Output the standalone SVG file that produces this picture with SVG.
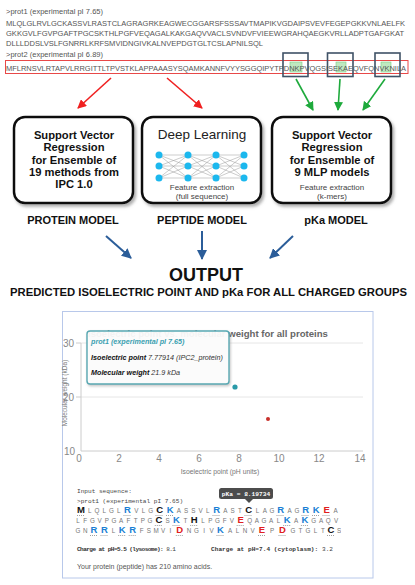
<svg xmlns="http://www.w3.org/2000/svg" width="415" height="585" viewBox="0 0 415 585">
<style>
.seq{font-family:"Liberation Sans",Arial,sans-serif;font-size:7.5px;fill:#555}
.bt{font-family:"Liberation Sans",Arial,sans-serif;font-size:11.2px;font-weight:bold;fill:#111;text-anchor:middle}
.fe{font-family:"Liberation Sans",Arial,sans-serif;font-size:8px;fill:#444;text-anchor:middle}
.lbl{font-family:"Liberation Sans",Arial,sans-serif;font-size:11px;font-weight:bold;fill:#111;text-anchor:middle}
.box{fill:#fff;stroke:#111;stroke-width:2.5}
.nn{fill:#1cb8ee}
.nl{stroke:#999;stroke-width:0.5}
.ax{font-family:"Liberation Sans",Arial,sans-serif;font-size:10px;fill:#888}
.mono{font-family:"Liberation Mono","Courier New",monospace;font-size:6.1px;fill:#444}
.r{font-family:"Liberation Sans",Arial,sans-serif;font-size:6.3px;fill:#777;text-anchor:middle}
.h{font-family:"Liberation Sans",Arial,sans-serif;font-size:9.5px;font-weight:bold;text-anchor:middle}
.k{fill:#111}.b{fill:#1a7fd4}.e{fill:#e02020}
.ul{stroke:#888;stroke-width:0.8;stroke-dasharray:1 1}
.tt{font-family:"Liberation Sans",Arial,sans-serif;font-size:7.2px;font-style:italic}
</style>
<defs>
<marker id="ar" markerWidth="9" markerHeight="9" refX="8" refY="4.5" orient="auto" markerUnits="userSpaceOnUse"><path d="M0,0 L9,4.5 L0,9 Z" fill="#f02020"/></marker>
<marker id="ag" markerWidth="9" markerHeight="9" refX="8" refY="4.5" orient="auto" markerUnits="userSpaceOnUse"><path d="M0,0 L9,4.5 L0,9 Z" fill="#1eaa3c"/></marker>
<marker id="ab" markerWidth="10" markerHeight="10" refX="9" refY="5" orient="auto" markerUnits="userSpaceOnUse"><path d="M0,0 L10,5 L0,10 Z" fill="#2b5d99"/></marker>
<filter id="sh" x="-10%" y="-10%" width="130%" height="130%"><feDropShadow dx="2" dy="2.5" stdDeviation="1.5" flood-color="#777" flood-opacity="0.6"/></filter>
<filter id="sh2" x="-10%" y="-10%" width="130%" height="130%"><feDropShadow dx="1" dy="1.5" stdDeviation="1.2" flood-color="#888" flood-opacity="0.5"/></filter>
<clipPath id="cl"><rect x="70" y="500" width="271" height="40"/></clipPath>
</defs>
<rect width="415" height="585" fill="#fff"/>

<g id="input-sequences">
<text class="seq" x="6" y="14" textLength="97">&gt;prot1 (experimental pI 7.65)</text>
<text class="seq" x="6" y="26" textLength="399" lengthAdjust="spacingAndGlyphs">MLQLGLRVLGCKASSVLRASTCLAGRAGRKEAGWECGGARSFSSSAVTMAPIKVGDAIPSVEVFEGEPGKKVNLAELFK</text>
<text class="seq" x="6" y="36" textLength="398" lengthAdjust="spacingAndGlyphs">GKKGVLFGVPGAFTPGCSKTHLPGFVEQAGALKAKGAQVVACLSVNDVFVIEEWGRAHQAEGKVRLLADPTGAFGKAT</text>
<text class="seq" x="6" y="46" textLength="257" lengthAdjust="spacingAndGlyphs">DLLLDDSLVSLFGNRRLKRFSMVIDNGIVKALNVEPDGTGLTCSLAPNILSQL</text>
<text class="seq" x="6" y="57" textLength="97">&gt;prot2 (experimental pI 6.89)</text>
<rect x="290" y="62" width="12" height="10" fill="#bfe8c0" stroke="#7ccc80" stroke-width="0.6"/>
<rect x="336" y="62" width="10" height="10" fill="#bfe8c0" stroke="#7ccc80" stroke-width="0.6"/>
<rect x="381" y="62" width="10" height="10" fill="#bfe8c0" stroke="#7ccc80" stroke-width="0.6"/>
<text class="seq" x="6" y="70.5" textLength="400" lengthAdjust="spacingAndGlyphs">MFLRNSVLRTAPVLRRGITTLTPVSTKLAPPAAASYSQAMKANNFVYYSGGQIPYTPDNKPVQGSISEKAEQVFQNVKNILA</text>
<rect x="5.5" y="60.5" width="402.5" height="13" fill="none" stroke="#e84848" stroke-width="1"/>
<rect x="283" y="53" width="25" height="23.5" fill="none" stroke="#3f5266" stroke-width="1.6"/>
<rect x="327.5" y="53" width="25.5" height="23.5" fill="none" stroke="#3f5266" stroke-width="1.6"/>
<rect x="375" y="53" width="25" height="23.5" fill="none" stroke="#3f5266" stroke-width="1.6"/>
</g>

<g id="connectors" fill="none">
<line x1="111" y1="78" x2="78" y2="108" stroke="#f02020" stroke-width="1.6" marker-end="url(#ar)"/>
<line x1="167" y1="78" x2="202" y2="108" stroke="#f02020" stroke-width="1.6" marker-end="url(#ar)"/>
<line x1="296" y1="79" x2="313" y2="110" stroke="#1eaa3c" stroke-width="1.6" marker-end="url(#ag)"/>
<line x1="340" y1="79" x2="338" y2="110" stroke="#1eaa3c" stroke-width="1.6" marker-end="url(#ag)"/>
<line x1="385" y1="79" x2="363" y2="110" stroke="#1eaa3c" stroke-width="1.6" marker-end="url(#ag)"/>
<line x1="106" y1="236" x2="131" y2="258" stroke="#2b5d99" stroke-width="2" marker-end="url(#ab)"/>
<line x1="202" y1="231" x2="202" y2="259" stroke="#2b5d99" stroke-width="2" marker-end="url(#ab)"/>
<line x1="293" y1="236" x2="270" y2="258" stroke="#2b5d99" stroke-width="2" marker-end="url(#ab)"/>
</g>

<g id="protein-model">
<rect class="box" x="14" y="117" width="119" height="86" rx="11" filter="url(#sh)"/>
<text class="bt" x="74" y="139">Support Vector</text>
<text class="bt" x="74" y="151.3">Regression</text>
<text class="bt" x="74" y="163.6">for Ensemble of</text>
<text class="bt" x="74" y="175.9">19 methods from</text>
<text class="bt" x="74" y="188.2">IPC 1.0</text>
<text class="lbl" x="73" y="224">PROTEIN MODEL</text>
</g>

<g id="peptide-model">
<rect class="box" x="142" y="117" width="119" height="86" rx="11" filter="url(#sh)"/>
<text x="202" y="139" text-anchor="middle" font-family="'Liberation Sans',Arial,sans-serif" font-size="13.5" fill="#222">Deep Learning</text>
<g>
<path class="nl" d="M159,155L188,155M159,155L188,166M159,155L188,178M159,166L188,155M159,166L188,166M159,166L188,178M159,178L188,155M159,178L188,166M159,178L188,178M188,155L216,155M188,155L216,166M188,155L216,178M188,166L216,155M188,166L216,166M188,166L216,178M188,178L216,155M188,178L216,166M188,178L216,178M216,155L244,155M216,155L244,166M216,155L244,178M216,166L244,155M216,166L244,166M216,166L244,178M216,178L244,155M216,178L244,166M216,178L244,178"/>
<circle class="nn" cx="159" cy="155" r="3.5"/><circle class="nn" cx="159" cy="166" r="3.5"/><circle class="nn" cx="159" cy="178" r="3.5"/>
<circle class="nn" cx="188" cy="155" r="3.5"/><circle class="nn" cx="188" cy="166" r="3.5"/><circle class="nn" cx="188" cy="178" r="3.5"/>
<circle class="nn" cx="216" cy="155" r="3.5"/><circle class="nn" cx="216" cy="166" r="3.5"/><circle class="nn" cx="216" cy="178" r="3.5"/>
<circle class="nn" cx="244" cy="155" r="3.5"/><circle class="nn" cx="244" cy="166" r="3.5"/><circle class="nn" cx="244" cy="178" r="3.5"/>
</g>
<text class="fe" x="202" y="189.5">Feature extraction</text>
<text class="fe" x="202" y="198.5">(full sequence)</text>
<text class="lbl" x="202" y="224">PEPTIDE MODEL</text>
</g>

<g id="pka-model">
<rect class="box" x="272" y="117" width="119" height="86" rx="11" filter="url(#sh)"/>
<text class="bt" x="332" y="139">Support Vector</text>
<text class="bt" x="332" y="151.3">Regression</text>
<text class="bt" x="332" y="163.6">for Ensemble of</text>
<text class="bt" x="332" y="175.9">9 MLP models</text>
<text class="fe" x="332" y="190">Feature extraction</text>
<text class="fe" x="332" y="199">(k-mers)</text>
<text class="lbl" x="336" y="224">pKa MODEL</text>
</g>

<g id="output">
<text x="206" y="281" text-anchor="middle" font-family="'Liberation Sans',Arial,sans-serif" font-size="18" font-weight="bold" fill="#111">OUTPUT</text>
<text x="10" y="296" font-family="'Liberation Sans',Arial,sans-serif" font-size="10.5" font-weight="bold" fill="#111" textLength="397" lengthAdjust="spacingAndGlyphs">PREDICTED ISOELECTRIC POINT AND pKa FOR ALL CHARGED GROUPS</text>
</g>

<g id="result-panel">
<rect x="62.5" y="311.5" width="310.5" height="266.5" fill="#fff" stroke="#b8c8ea" stroke-width="1"/>
<line x1="81" y1="343" x2="363" y2="343" stroke="#e6e6e6"/>
<line x1="81" y1="397" x2="363" y2="397" stroke="#e6e6e6"/>
<line x1="81" y1="451" x2="363" y2="451" stroke="#ccc"/>
<line x1="81" y1="343" x2="81" y2="451" stroke="#ccc"/>
<line x1="76" y1="343" x2="81" y2="343" stroke="#ccc"/>
<line x1="76" y1="397" x2="81" y2="397" stroke="#ccc"/>
<text class="ax" x="74" y="347" text-anchor="end">30</text>
<text class="ax" x="74" y="401" text-anchor="end">20</text>
<text class="ax" x="75" y="455" text-anchor="end">10</text>
<g class="ax" text-anchor="middle">
<text x="79" y="462">0</text><text x="119" y="462">2</text><text x="159" y="462">4</text><text x="199" y="462">6</text>
<text x="239" y="462">8</text><text x="279" y="462">10</text><text x="319" y="462">12</text><text x="360" y="462">14</text>
</g>
<text x="220" y="474" text-anchor="middle" font-family="'Liberation Sans',Arial,sans-serif" font-size="6.8" fill="#777">Isoelectric point (pH units)</text>
<text transform="translate(67,393) rotate(-90)" text-anchor="middle" font-family="'Liberation Sans',Arial,sans-serif" font-size="6.5" fill="#777">Molecular weight (kDa)</text>
<text x="88" y="337" font-family="'Liberation Sans',Arial,sans-serif" font-size="9.6" font-weight="bold" fill="#666">Isoelectric point vs. molecular weight for all proteins</text>
<circle cx="268" cy="419" r="2" fill="#c8302a"/>
<rect x="87" y="331" width="142" height="53" rx="3" fill="#fff" fill-opacity="0.9" stroke="#58a8b2" stroke-width="1.4" filter="url(#sh2)"/>
<text class="tt" x="91" y="344" font-weight="bold" fill="#3a9fb0">prot1 (experimental pI 7.65)</text>
<text class="tt" x="91" y="360" fill="#333"><tspan font-weight="bold" fill="#111">Isoelectric point</tspan> 7.77914 (IPC2_protein)</text>
<text class="tt" x="91" y="375" fill="#333"><tspan font-weight="bold" fill="#111">Molecular weight</tspan> 21.9 kDa</text>
<circle cx="235" cy="387" r="2.6" fill="#2a9aa8"/>

<text class="mono" x="77" y="493">Input sequence:</text>
<text class="mono" x="77" y="503">&gt;prot1 (experimental pI 7.65)</text>
<g clip-path="url(#cl)">
<text class="r" y="512.5"><tspan x="89.85">L</tspan><tspan x="97.05">Q</tspan><tspan x="104.25">L</tspan><tspan x="111.45">G</tspan><tspan x="118.65">L</tspan><tspan x="136.35">V</tspan><tspan x="143.55">L</tspan><tspan x="150.75">G</tspan><tspan x="178.95">A</tspan><tspan x="186.15">S</tspan><tspan x="193.35">S</tspan><tspan x="200.55">V</tspan><tspan x="207.75">L</tspan><tspan x="225.45">A</tspan><tspan x="232.65">S</tspan><tspan x="239.85">T</tspan><tspan x="257.55">L</tspan><tspan x="264.75">A</tspan><tspan x="271.95">G</tspan><tspan x="289.65">A</tspan><tspan x="296.85">G</tspan><tspan x="335.55">A</tspan></text>
<text class="h" y="512.5"><tspan x="81" class="k">M</tspan><tspan x="127.5" class="b">R</tspan><tspan x="159.6" class="k">C</tspan><tspan x="170.1" class="b">K</tspan><tspan x="216.6" class="b">R</tspan><tspan x="248.7" class="k">C</tspan><tspan x="280.8" class="b">R</tspan><tspan x="305.7" class="b">R</tspan><tspan x="316.2" class="b">K</tspan><tspan x="326.7" class="e">E</tspan></text>
<text class="r" y="522.5"><tspan x="78">L</tspan><tspan x="85.2">F</tspan><tspan x="92.4">G</tspan><tspan x="99.6">V</tspan><tspan x="106.8">P</tspan><tspan x="114">G</tspan><tspan x="121.2">A</tspan><tspan x="128.4">F</tspan><tspan x="135.6">T</tspan><tspan x="142.8">P</tspan><tspan x="150">G</tspan><tspan x="167.7">S</tspan><tspan x="185.4">T</tspan><tspan x="203.1">L</tspan><tspan x="210.3">P</tspan><tspan x="217.5">G</tspan><tspan x="224.7">F</tspan><tspan x="231.9">V</tspan><tspan x="249.6">Q</tspan><tspan x="256.8">A</tspan><tspan x="264">G</tspan><tspan x="271.2">A</tspan><tspan x="278.4">L</tspan><tspan x="296.1">A</tspan><tspan x="313.8">G</tspan><tspan x="321">A</tspan><tspan x="328.2">Q</tspan><tspan x="336.2">V</tspan></text>
<text class="h" y="522.5"><tspan x="158.85" class="k">C</tspan><tspan x="176.55" class="b">K</tspan><tspan x="194.25" class="k">H</tspan><tspan x="240.75" class="e">E</tspan><tspan x="287.25" class="b">K</tspan><tspan x="304.95" class="b">K</tspan></text>
<text class="r" y="532.5"><tspan x="78">G</tspan><tspan x="85.2">N</tspan><tspan x="113.4">L</tspan><tspan x="141.6">F</tspan><tspan x="148.8">S</tspan><tspan x="156">M</tspan><tspan x="163.2">V</tspan><tspan x="170.4">I</tspan><tspan x="189">N</tspan><tspan x="196.5">G</tspan><tspan x="204">I</tspan><tspan x="211.5">V</tspan><tspan x="230">A</tspan><tspan x="237.5">L</tspan><tspan x="245">N</tspan><tspan x="252.5">V</tspan><tspan x="272">P</tspan><tspan x="293">G</tspan><tspan x="300.5">T</tspan><tspan x="308">G</tspan><tspan x="315.5">L</tspan><tspan x="323">T</tspan><tspan x="339">S</tspan></text>
<text class="h" y="532.5"><tspan x="94.05" class="b">R</tspan><tspan x="104.55" class="b">R</tspan><tspan x="122.25" class="b">K</tspan><tspan x="132.75" class="b">R</tspan><tspan x="179.8" class="e">D</tspan><tspan x="220.5" class="b">K</tspan><tspan x="262" class="e">E</tspan><tspan x="282.5" class="e">D</tspan><tspan x="331" class="k">C</tspan></text>
<path class="ul" d="M77,515.5h8M123.5,515.5h8M155.5,515.5h8M166,515.5h8M212.5,515.5h8M244.5,515.5h8M276.5,515.5h8M301.5,515.5h8M312,515.5h8M322.5,515.5h8M154.8,525.5h8M172.5,525.5h8M190.2,525.5h8M236.7,525.5h8M283.2,525.5h8M300.9,525.5h8M90,535.5h8M100.5,535.5h8M118.2,535.5h8M128.7,535.5h8M175.8,535.5h8M216.5,535.5h8M258,535.5h8M278.5,535.5h8M327,535.5h8"/>
</g>
<rect x="219" y="488" width="54" height="11" rx="2.5" fill="#3d3d3d" fill-opacity="0.92"/>
<path d="M245,499 L253,499 L249,503 Z" fill="#3d3d3d" fill-opacity="0.92"/>
<text x="246" y="495.8" text-anchor="middle" font-family="'Liberation Mono','Courier New',monospace" font-size="6.2" font-weight="bold" fill="#fff">pKa = 8.19734</text>
<text class="mono" x="77" y="551" textLength="99"><tspan font-weight="bold" fill="#333">Charge at pH=5.5 (lysosome):</tspan> 8.1</text>
<text class="mono" x="211" y="551" textLength="122"><tspan font-weight="bold" fill="#333">Charge at pH=7.4 (cytoplasm):</tspan> 3.2</text>
<text x="77" y="569" font-family="'Liberation Sans',Arial,sans-serif" font-size="7" fill="#555">Your protein (peptide) has 210 amino acids.</text>
</g>
</svg>
